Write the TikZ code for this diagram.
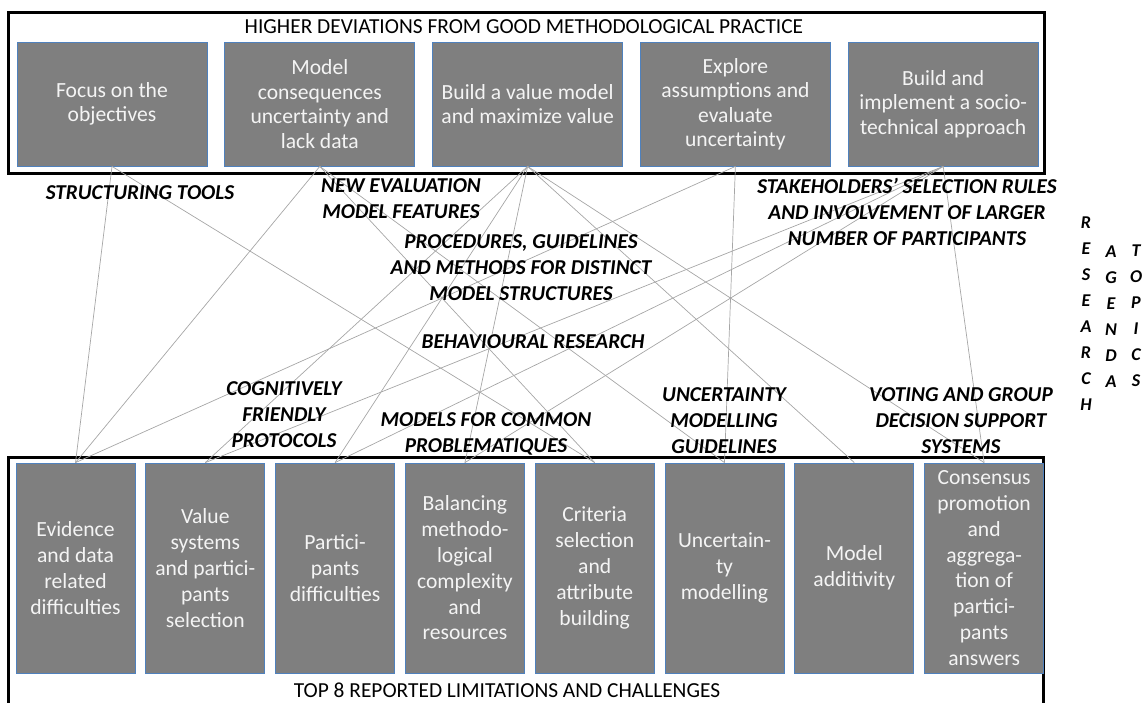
\documentclass[tikz,border=0pt]{standalone}
\usepackage{fontspec}
\setmainfont{Carlito}
\usepackage{xcolor}
\usepackage{tikz}
\usetikzlibrary{positioning}

\definecolor{boxgray}{HTML}{7F7F7F}
\definecolor{boxblue}{HTML}{4F81BD}
\definecolor{boxtext}{HTML}{F4F4F4}
\definecolor{linegray}{HTML}{A6A6A6}

\begin{document}
\begin{tikzpicture}[x=1pt, y=-1pt,
        deviation/.style={draw=boxblue, line width=0.8pt, fill=boxgray, text=boxtext,
            minimum width=190pt, minimum height=124pt, inner sep=0pt, align=center,
            font=\fontsize{21.6}{24.5}\selectfont},
        limitation/.style={draw=boxblue, line width=0.8pt, fill=boxgray, text=boxtext,
            minimum width=119pt, minimum height=210pt, inner sep=0pt, align=center,
            font=\fontsize{21.6}{25.8}\selectfont},
        topic/.style={inner sep=0pt, align=center, font=\fontsize{21.2}{26}\selectfont\bfseries\itshape},
        letters/.style={inner sep=0pt, align=center, font=\fontsize{18}{26}\selectfont\bfseries\itshape},
        heading/.style={inner sep=0pt, font=\fontsize{21.4}{24}\selectfont},
        outerbox/.style={draw=black, line width=3pt},
        link/.style={draw=linegray, line width=0.7pt}]
        \useasboundingbox (0,0) rectangle (1142,702);

        % frames
        \draw[outerbox] (8,12) rectangle (1044,173);
        \draw[outerbox] (8,706) |- (1043,457) -- (1043,706);
        \node[heading] (H) at (524,27) {HIGHER DEVIATIONS FROM GOOD METHODOLOGICAL PRACTICE};
        \node[heading] (F) at (507,690) {TOP 8 REPORTED LIMITATIONS AND CHALLENGES};

        % deviations
        \node[deviation] (T1) at (112,104) {Focus on the\\objectives};
        \node[deviation] (T2) [right=17pt of T1] {Model\\consequences\\uncertainty and\\lack data};
        \node[deviation] (T3) [right=17pt of T2] {Build a value model\\and maximize value};
        \node[deviation] (T4) [right=17pt of T3] {Explore\\assumptions and\\evaluate\\uncertainty};
        \node[deviation] (T5) [right=17pt of T4] {Build and\\implement a socio-\\technical approach};

        % limitations
        \node[limitation] (L1) at (75.5,568) {Evidence\\and data\\related\\difficulties};
        \node[limitation] (L2) [right=10pt of L1] {Value\\systems\\and partici-\\pants\\selection};
        \node[limitation] (L3) [right=10pt of L2] {Partici-\\pants\\difficulties};
        \node[limitation] (L4) [right=10pt of L3] {Balancing\\methodo-\\logical\\complexity\\and\\resources};
        \node[limitation] (L5) [right=10pt of L4] {Criteria\\selection\\and\\attribute\\building};
        \node[limitation] (L6) [right=10pt of L5] {Uncertain-\\ty\\modelling};
        \node[limitation] (L7) [right=10pt of L6] {Model\\additivity};
        \node[limitation] (L8) [right=10pt of L7] {Consensus\\promotion\\and\\aggrega-\\tion of\\partici-\\pants\\answers};

        \path[link] (T1.south) edge (L1.north)
              (T1.south) edge (L5.north)
              (T2.south) edge (L1.north)
              (T2.south) edge (L5.north)
              (T2.south) edge (L6.north)
              (T3.south) edge (L2.north)
              (T3.south) edge (L3.north)
              (T3.south) edge (L4.north)
              (T3.south) edge (L7.north)
              (T3.south) edge (L8.north)
              (T4.south) edge (L1.north)
              (T4.south) edge (L6.north)
              (T5.south) edge (L2.north)
              (T5.south) edge (L3.north)
              (T5.south) edge (L4.north)
              (T5.south) edge (L8.north);

        % research agenda topics
        \node[topic] (st) at (140,193) {STRUCTURING TOOLS};
        \node[topic] (nf) at (401,199) {NEW EVALUATION\\MODEL FEATURES};
        \node[topic] (pg) at (521,268) {PROCEDURES, GUIDELINES\\AND METHODS FOR DISTINCT\\MODEL STRUCTURES};
        \node[topic] (br) at (533,342) {BEHAVIOURAL RESEARCH};
        \node[topic] (cf) at (284,415) {COGNITIVELY\\FRIENDLY\\PROTOCOLS};
        \node[topic] (mc) at (486,434) {MODELS FOR COMMON\\PROBLEMATIQUES};
        \node[topic] (sr) at (907,212) {STAKEHOLDERS’ SELECTION RULES\\AND INVOLVEMENT OF LARGER\\NUMBER OF PARTICIPANTS};
        \node[topic] (ug) at (724,421) {UNCERTAINTY\\MODELLING\\GUIDELINES};
        \node[topic] (vg) at (961,421) {VOTING AND GROUP\\DECISION SUPPORT\\SYSTEMS};

        \node[letters] (R) at (1086,314) {R\\E\\S\\E\\A\\R\\C\\H};
        \node[letters] (A) at (1111,317) {A\\G\\E\\N\\D\\A};
        \node[letters] (P) at (1136,316) {T\\O\\P\\I\\C\\S};
    \end{tikzpicture}
\end{document}
